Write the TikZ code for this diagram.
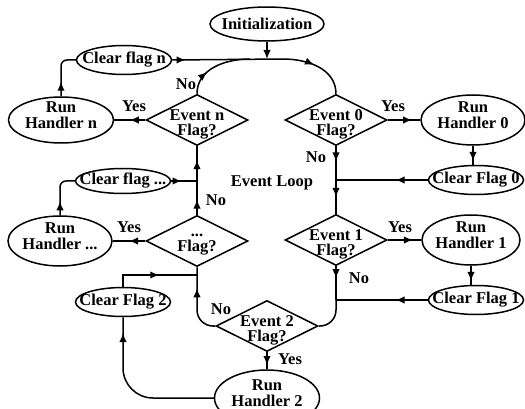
\documentclass[tikz,border=0pt]{standalone}
\usepackage{fontspec}
\setmainfont{Liberation Serif}
\usetikzlibrary{shapes.geometric,decorations.markings,arrows.meta}

\begin{document}
\begin{tikzpicture}[x=1pt,y=-1pt,line width=1.5pt,
  txt/.style={font=\bfseries\fontsize{16.5}{16.5}\selectfont,align=center,inner sep=0pt},
  box/.style={ellipse,draw,inner sep=0pt,label={[txt]center:#1}},
  clr/.style={box=#1,minimum width=95pt,minimum height=29pt},
  run/.style={ellipse,draw,inner sep=0pt,minimum width=104pt,minimum height=50pt,
    label={[txt,yshift=5pt]center:Run\\#1}},
  flag/.style={diamond,draw,inner sep=0pt,minimum width=102pt,minimum height=51pt,
    label={[txt,yshift=-4pt,font=\bfseries\fontsize{16.5}{15}\selectfont]center:#1}},
  mid/.style={postaction={decorate},decoration={markings,mark=at position #1 with {\arrow{Latex[length=9pt,width=7.5pt]}}}}]
  \useasboundingbox (0,0) rectangle (525,409);

  % boxes
  \node[box={Initialization},minimum width=114pt,minimum height=34pt] (init) at (267,24) {};
  \node[clr={Clear flag n}] (cfn) at (124,60) {};
  \node[run={Handler n},minimum width=105pt,minimum height=46pt] (rhn) at (61,120) {};
  \node[flag={Event n\\Flag?}] (evn) at (197,120) {};
  \node[flag={Event 0\\Flag?}] (ev0) at (336,120) {};
  \node[run={Handler 0}] (rh0) at (473,120) {};
  \node[clr={Clear Flag 0}] (cf0) at (476,180) {};
  \node[clr={Clear flag ...},minimum height=25pt] (cfd) at (123,181) {};
  \node[run={Handler ...}] (rhd) at (60,241) {};
  \node[flag={...\\Flag?}] (evd) at (197,241) {};
  \node[flag={Event 1\\Flag?}] (ev1) at (336,240) {};
  \node[run={Handler 1},minimum width=98pt] (rh1) at (471,240) {};
  \node[clr={Clear Flag 1}] (cf1) at (476,300) {};
  \node[clr={Clear Flag 2}] (cf2) at (123,302) {};
  \node[flag={Event 2\\Flag?}] (ev2) at (267,326) {};
  \node[run={Handler 2},minimum width=105pt,minimum height=56pt] (rh2) at (267,398) {};

  % labels
  \node[txt] (loop) at (272,183) {Event Loop};
  \node[txt] (yesn) at (134,106) {Yes};
  \node[txt] (non) at (186,84) {No};
  \node[txt] (yes0) at (393,106) {Yes};
  \node[txt] (no0) at (316,157) {No};
  \node[txt] (nod) at (216,200) {No};
  \node[txt] (yesd) at (129,227) {Yes};
  \node[txt] (yes1) at (400,227) {Yes};
  \node[txt] (no1) at (359,278) {No};
  \node[txt] (no2) at (221,309) {No};
  \node[txt] (yes2) at (290,359) {Yes};

  % joints
  \coordinate (j1) at (250,59);
  \coordinate (j2) at (283,59);
  \coordinate (j0) at (336,180);
  \coordinate (j3) at (336,300);
  \coordinate (j5) at (197,275);
  \coordinate (j6) at (197,181);

  % loop
  \draw[-{Latex[length=9pt,width=7.5pt]}] (init.south) -- (init.south |- j2);
  \draw[mid=0.12] (cfn.east) -- (j2);
  \draw[mid=0.45] (j2) to[out=0,in=90] (ev0.north);
  \draw[mid=0.35] (evn.north) to[out=90,in=180] (j1);
  \draw[mid=0.45] (ev0.south) -- (j0);
  \draw[mid=0.5] (j0) -- (ev1.north);
  \draw[mid=0.35] (ev1.south) -- (j3);
  \draw[rounded corners=16pt] (j3) |- (ev2.east);
  \draw[mid=0.7,rounded corners=16pt] (ev2.west) -| (evd.south);
  \draw[mid=0.45] (evd.north) -- (j6);
  \draw[mid=0.6] (j6) -- (evn.south);

  % handlers
  \draw[mid=0.75] (ev0.east) -- (rh0.west);
  \draw[mid=0.8] (rh0.south) -- (rh0.south |- cf0.north);
  \draw[mid=0.35] (cf0.west) -- (j0);
  \draw[mid=0.75] (ev1.east) -- (rh1.west);
  \draw[mid=0.8] (rh1.south) -- (rh1.south |- cf1.north);
  \draw[mid=0.35] (cf1.west) -- (j3);
  \draw[mid=0.75] (ev2.south) -- (rh2.north);
  \draw[mid=0.9,rounded corners=30pt] (rh2.west) -| (cf2.south);
  \draw[mid=0.56] (cf2.north) |- (j5);
  \draw[mid=0.5] (evd.west) -- (rhd.east);
  \draw[mid=0.3,rounded corners=6pt] (rhd.north) |- (cfd.west);
  \draw[mid=0.4] (cfd.east) -- (j6);
  \draw[mid=0.5] (evn.west) -- (rhn.east);
  \draw[mid=0.3,rounded corners=6pt] (rhn.north) |- (cfn.west);
\end{tikzpicture}
\end{document}
